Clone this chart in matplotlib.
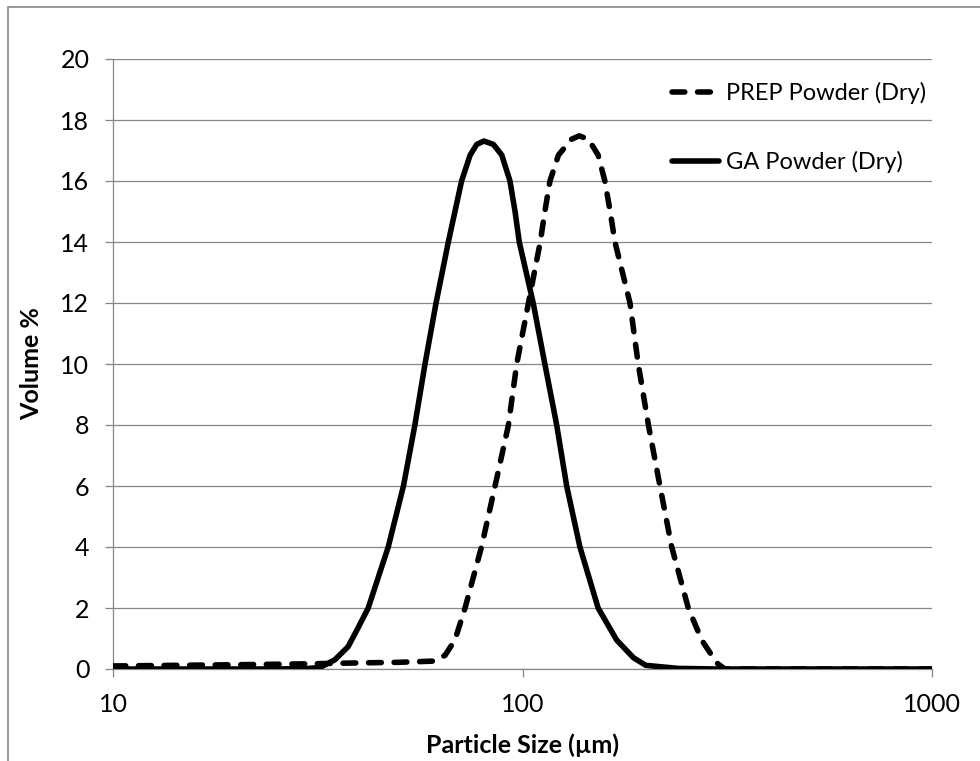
import matplotlib
matplotlib.use("Agg")
import matplotlib.pyplot as plt
from matplotlib.patches import Rectangle

plt.rcParams['font.family'] = ['Lato', 'DejaVu Sans']

# GA Powder (Dry) - solid line
ga_size = [10, 15, 20, 25, 30, 32, 34.8, 37.5, 39.5, 42, 47, 51.2, 54.6, 57.8, 61.5,
           65.9, 68.4, 71.0, 74.5, 77.3, 80.5, 84.9, 89.0, 93.2, 95.9, 98.2, 106.2,
           113.4, 121.2, 128.2, 138.1, 153, 169.8, 186.6, 200, 240, 300, 500, 1000]
ga_vol = [0.0, 0.0, 0.0, 0.0, 0.02, 0.05, 0.3, 0.73, 1.3, 2.0, 4.0, 6.0, 8.0, 10.0, 12.0,
          14.0, 15.0, 16.0, 16.85, 17.2, 17.31, 17.2, 16.85, 16.0, 15.0, 14.0, 12.0,
          10.0, 8.0, 6.0, 4.0, 2.0, 0.95, 0.37, 0.12, 0.02, 0.0, 0.0, 0.0]

# PREP Powder (Dry) - dashed line
prep_size = [10, 20, 30, 40, 50, 61, 64.7, 68.4, 72.4, 79.4, 85.7, 92.4, 96.8, 103.4,
             110.5, 113.4, 116.7, 122.4, 131.8, 137.5, 144.9, 153, 158.9, 163.7, 168.2,
             183, 191.7, 203, 216.6, 231.4, 254, 273.9, 298, 312, 400, 1000]
prep_vol = [0.1, 0.14, 0.17, 0.2, 0.22, 0.26, 0.45, 0.95, 2.0, 4.0, 6.0, 8.0, 10.0, 12.0,
            14.0, 15.0, 16.0, 16.85, 17.37, 17.48, 17.37, 16.85, 16.0, 15.0, 14.0,
            12.0, 10.0, 8.0, 6.0, 4.0, 2.0, 0.95, 0.2, 0.0, 0.0, 0.0]

y_ticks = list(range(0, 21, 2))
x_ticks = [10, 100, 1000]
x_ticklabels = ['10', '100', '1000']

grey = '#878787'
fs = 18

fig = plt.figure(figsize=(9.8, 7.61), dpi=100)
ax = fig.add_axes([113 / 980, 1 - 669 / 761, (932 - 113) / 980, (669 - 59) / 761])

ga_line, = ax.plot(ga_size, ga_vol, color='black', lw=4.0, solid_capstyle='round',
                   solid_joinstyle='round', label='GA Powder (Dry)', zorder=3)
prep_line, = ax.plot(prep_size, prep_vol, color='black', lw=4.0,
                     dashes=(2.3, 2.3), dash_capstyle='round', dash_joinstyle='round',
                     label='PREP Powder (Dry)', zorder=4)

ax.set_xscale('log')
ax.set_xlim(10, 1000)
ax.set_ylim(0, 20)
ax.set_xticks(x_ticks)
ax.set_xticklabels(x_ticklabels)
ax.xaxis.set_minor_locator(matplotlib.ticker.NullLocator())
ax.set_yticks(y_ticks)

ax.grid(axis='y', color=grey, lw=0.9)
ax.set_axisbelow(True)
for s in ['top', 'right']:
    ax.spines[s].set_visible(False)
for s in ['left', 'bottom']:
    ax.spines[s].set_color(grey)
    ax.spines[s].set_linewidth(0.9)
ax.tick_params(axis='both', colors=grey, labelcolor='black', labelsize=fs,
               width=0.9, length=6, pad=11)

ax.set_xlabel('Particle Size (µm)', fontsize=fs, fontweight='bold', labelpad=13)
ax.set_ylabel('Volume %', fontsize=fs, fontweight='bold', labelpad=12)

ax.legend(handles=[prep_line, ga_line], loc='upper left',
          bbox_to_anchor=((672 - 113) / 819, 1 - (82 - 59) / 610),
          frameon=False, fontsize=17, handlelength=2.0, handletextpad=0.3,
          labelspacing=2.0, borderpad=0, borderaxespad=0)

fig.patches.append(Rectangle((8 / 980, -0.1), 1.2, 1.1 - 7 / 761,
                             transform=fig.transFigure, fill=False,
                             edgecolor=grey, lw=1.2))

fig.savefig('out.png', dpi=100)
